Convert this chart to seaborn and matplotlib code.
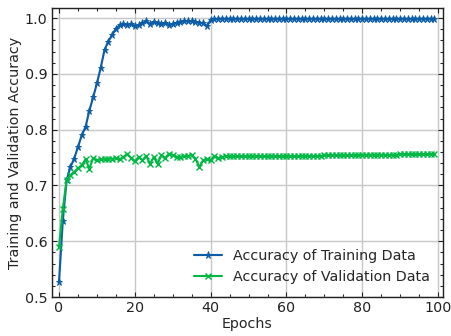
import numpy as np
import pandas as pd
import seaborn as sns
import matplotlib.pyplot as plt
from matplotlib.ticker import AutoMinorLocator

# Accuracy per epoch
train_acc = [
    0.527, 0.637, 0.709, 0.733, 0.748, 0.769, 0.790, 0.805, 0.834, 0.858,
    0.883, 0.911, 0.943, 0.958, 0.970, 0.981, 0.987, 0.989, 0.988, 0.989,
    0.986, 0.987, 0.991, 0.994, 0.989, 0.993, 0.991, 0.989, 0.991, 0.988,
    0.989, 0.992, 0.993, 0.994, 0.995, 0.994, 0.993, 0.992, 0.991, 0.985,
    0.997, 0.998, 0.999, 0.999, 0.999, 0.999, 0.999, 0.999, 0.999, 0.999,
    0.999, 0.999, 0.999, 0.999, 0.999, 0.999, 0.999, 0.999, 0.999, 0.999,
    0.999, 0.999, 0.999, 0.999, 0.999, 0.999, 0.999, 0.999, 0.999, 0.999,
    0.999, 0.999, 0.999, 0.999, 0.999, 0.999, 0.999, 0.999, 0.999, 0.999,
    0.999, 0.999, 0.999, 0.999, 0.999, 0.999, 0.999, 0.999, 0.999, 0.999,
    0.999, 0.999, 0.999, 0.999, 0.999, 0.999, 0.999, 0.999, 0.999, 0.999,
]
val_acc = [
    0.590, 0.658, 0.710, 0.719, 0.724, 0.731, 0.736, 0.747, 0.730, 0.749,
    0.745, 0.747, 0.747, 0.748, 0.748, 0.749, 0.747, 0.751, 0.757, 0.749,
    0.743, 0.751, 0.745, 0.753, 0.739, 0.751, 0.739, 0.754, 0.749, 0.757,
    0.754, 0.751, 0.751, 0.753, 0.753, 0.755, 0.748, 0.733, 0.745, 0.747,
    0.745, 0.753, 0.749, 0.751, 0.753, 0.752, 0.752, 0.752, 0.752, 0.752,
    0.752, 0.752, 0.752, 0.752, 0.752, 0.752, 0.752, 0.752, 0.752, 0.752,
    0.752, 0.752, 0.752, 0.752, 0.753, 0.753, 0.753, 0.753, 0.753, 0.753,
    0.754, 0.754, 0.754, 0.754, 0.754, 0.754, 0.754, 0.754, 0.754, 0.754,
    0.755, 0.755, 0.755, 0.755, 0.755, 0.755, 0.755, 0.755, 0.755, 0.755,
    0.756, 0.756, 0.756, 0.756, 0.756, 0.756, 0.756, 0.756, 0.756, 0.757,
]
epochs = list(range(len(train_acc)))

sns.set_style("ticks")
plt.rcParams.update({
    'font.family': ['DejaVu Sans'],
    'font.size': 8,
    'axes.linewidth': 0.8,
    'xtick.direction': 'in', 'ytick.direction': 'in',
    'xtick.top': True, 'ytick.right': True,
    'xtick.major.size': 3, 'ytick.major.size': 3,
    'xtick.minor.size': 1.5, 'ytick.minor.size': 1.5,
    'xtick.major.width': 0.6, 'ytick.major.width': 0.6,
    'xtick.minor.width': 0.6, 'ytick.minor.width': 0.6,
    'xtick.color': '#222222', 'ytick.color': '#222222',
    'axes.edgecolor': '#222222',
})

fig, ax = plt.subplots(figsize=(451 / 128, 336 / 128), dpi=128)

blue, green = '#0C5DA5', '#00B945'
sns.lineplot(x=epochs, y=train_acc, ax=ax, color=blue, marker='*',
             markersize=4, markeredgewidth=0.5, markeredgecolor=blue,
             linewidth=1.2, label='Accuracy of Training Data')
sns.lineplot(x=epochs, y=val_acc, ax=ax, color=green, marker='x',
             markersize=3.5, markeredgewidth=0.8, markeredgecolor=green,
             linewidth=1.2, label='Accuracy of Validation Data')

ax.set_xlim(-1.85, 101.3)
ax.set_ylim(0.5, 1.018)
ax.set_xticks([0, 20, 40, 60, 80, 100])
ax.set_yticks([0.5, 0.6, 0.7, 0.8, 0.9, 1.0])
ax.xaxis.set_minor_locator(AutoMinorLocator())
ax.yaxis.set_minor_locator(AutoMinorLocator())
ax.tick_params(which='both', top=True, right=True, direction='in')
ax.tick_params(which='major', labelsize=8, pad=2.5)
ax.grid(True, color='#c8c8c8', linewidth=0.8)
ax.set_axisbelow(True)

ax.set_xlabel('Epochs')
ax.set_ylabel('Training and Validation Accuracy')
ax.xaxis.set_label_coords(0.5, -0.068)
ax.yaxis.set_label_coords(-0.077, 0.5)
ax.legend(loc='lower right', frameon=False, fontsize=8, handlelength=2)

fig.subplots_adjust(left=0.1153, right=0.9823, top=0.976, bottom=0.116)
fig.savefig('out.png', dpi=128)
